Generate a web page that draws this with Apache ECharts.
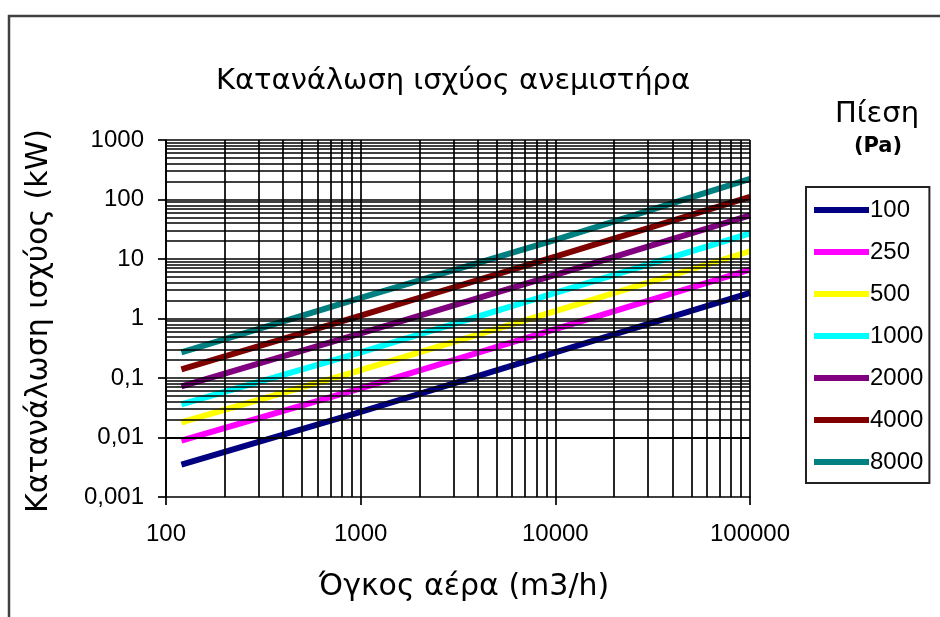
<!DOCTYPE html>
<html>
<head>
<meta charset="utf-8">
<script src="https://cdn.jsdelivr.net/npm/echarts@6/dist/echarts.min.js"></script>
<style>
html,body{margin:0;padding:0;background:#fff;}
#chart{width:940px;height:617px;}
</style>
</head>
<body>
<div id="chart"></div>
<script>
// ---- data ----
const titleText = 'Κατανάλωση ισχύος ανεμιστήρα';
const xAxisTitle = 'Όγκος αέρα (m3/h)';
const yAxisTitle = 'Κατανάλωση ισχύος (kW)';
const legendTitle1 = 'Πίεση';
const legendTitle2 = '(Pa)';

const flow = [120, 1000, 10000, 100000];           // m3/h
const pressures = ['100', '250', '500', '1000', '2000', '4000', '8000'];
const p100  = [0.0035, 0.027, 0.27, 2.7];
const p250  = [0.0089, 0.067, 0.66, 6.6];
const p500  = [0.018, 0.135, 1.33, 13.5];
const p1000 = [0.036, 0.27, 2.7, 27];
const p2000 = [0.072, 0.56, 5.4, 54];
const p4000 = [0.14, 1.12, 11, 111];
const p8000 = [0.27, 2.23, 21, 223];
const seriesValues = [p100, p250, p500, p1000, p2000, p4000, p8000];
const colors = ['#000080', '#FF00FF', '#FFFF00', '#00FFFF', '#800080', '#800000', '#008080'];

const xDecades = [100, 1000, 10000];
const yDecades = [0.001, 0.01, 0.1, 1, 10, 100];
const multipliers = [1, 2, 3, 4, 5, 6, 7, 8, 9];

// ---- build ----
const FONT = 'Liberation Sans, Arial, sans-serif';
const TFONT = 'DejaVu Sans, Verdana, sans-serif';
const xGrid = [];
xDecades.forEach(d => multipliers.forEach(m => xGrid.push(+(d * m).toPrecision(6))));
xGrid.push(100000);
const yGrid = [];
yDecades.forEach(d => multipliers.forEach(m => yGrid.push(+(d * m).toPrecision(6))));
yGrid.push(1000);

const gridMarks = xGrid.map(v => ({xAxis: v})).concat(yGrid.map(v => ({yAxis: v})));

const series = [{
  name: '__grid',
  type: 'line',
  data: [],
  z: 1,
  silent: true,
  markLine: {
    silent: true,
    animation: false,
    symbol: ['none', 'none'],
    label: {show: false},
    lineStyle: {color: '#000', width: 1.7, type: 'solid'},
    emphasis: {disabled: true},
    data: gridMarks
  }
}];
pressures.forEach((p, i) => {
  series.push({
    name: p,
    type: 'line',
    z: 3,
    showSymbol: false,
    symbol: 'none',
    animation: false,
    color: colors[i],
    lineStyle: {width: 6, color: colors[i]},
    data: flow.map((q, j) => [q, seriesValues[i][j]])
  });
});

const chart = echarts.init(document.getElementById('chart'), null, {renderer: 'canvas'});
chart.setOption({
  backgroundColor: '#fff',
  animation: false,
  textStyle: {fontFamily: FONT},
  grid: {left: 166, right: 190, top: 140, bottom: 120, containLabel: false},
  xAxis: {
    type: 'log', logBase: 10, min: 100, max: 100000, splitNumber: 3,
    axisLine: {show: true, onZero: false, lineStyle: {color: '#000', width: 1.7}},
    axisTick: {show: true, inside: false, length: 8, lineStyle: {color: '#000', width: 1.7}},
    splitLine: {show: false},
    axisLabel: {color: '#000', fontSize: 24, fontFamily: FONT, margin: 25,
      formatter: v => String(+(+v).toPrecision(6))}
  },
  yAxis: {
    type: 'log', logBase: 10, min: 0.001, max: 1000, splitNumber: 6,
    axisLine: {show: true, onZero: false, lineStyle: {color: '#000', width: 1.7}},
    axisTick: {show: true, inside: false, length: 8, lineStyle: {color: '#000', width: 1.7}},
    splitLine: {show: false},
    axisLabel: {color: '#000', fontSize: 24, fontFamily: FONT, margin: 22,
      formatter: v => String(+(+v).toPrecision(4)).replace('.', ',')}
  },
  legend: {
    data: pressures,
    orient: 'vertical',
    left: 806, top: 187,
    padding: [11, 6, 9, 8],
    itemGap: 18,
    itemWidth: 55, itemHeight: 6,
    icon: 'rect',
    borderColor: '#222', borderWidth: 2,
    selectedMode: false,
    textStyle: {color: '#000', fontSize: 24, fontFamily: FONT, lineHeight: 24, padding: [0, 0, 0, -4]}
  },
  graphic: [
    {type: 'rect', silent: true, shape: {x: 9, y: 16, width: 960, height: 640},
     style: {fill: 'none', stroke: '#404040', lineWidth: 2.5}},
    {type: 'text', silent: true, x: 453, y: 81,
     style: {text: titleText, font: '29px ' + TFONT, fill: '#000', textAlign: 'center', textVerticalAlign: 'middle'}},
    {type: 'text', silent: true, x: 464, y: 587,
     style: {text: xAxisTitle, font: '30px ' + TFONT, fill: '#000', textAlign: 'center', textVerticalAlign: 'middle'}},
    {type: 'text', silent: true, x: 39, y: 321, rotation: Math.PI / 2,
     style: {text: yAxisTitle, font: '30px ' + TFONT, fill: '#000', textAlign: 'center', textVerticalAlign: 'middle'}},
    {type: 'text', silent: true, x: 877, y: 114,
     style: {text: legendTitle1, font: '29px ' + TFONT, fill: '#000', textAlign: 'center', textVerticalAlign: 'middle'}},
    {type: 'text', silent: true, x: 878, y: 147,
     style: {text: legendTitle2, font: 'bold 21px ' + TFONT, fill: '#000', textAlign: 'center', textVerticalAlign: 'middle'}}
  ],
  series: series
});
</script>
</body>
</html>
